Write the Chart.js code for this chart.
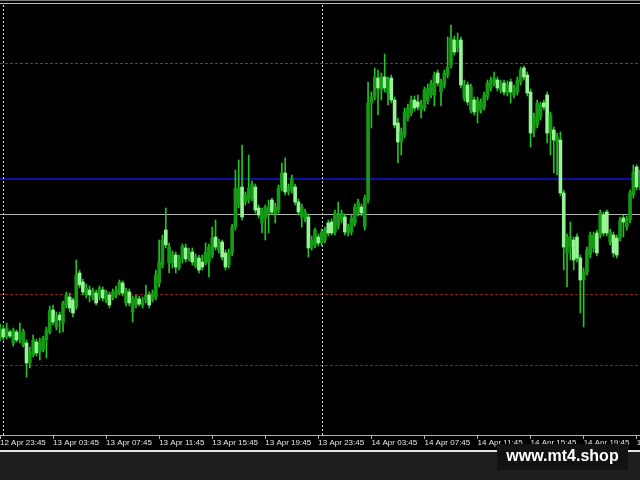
<!DOCTYPE html>
<html>
<head>
<meta charset="utf-8">
<script src="https://cdn.jsdelivr.net/npm/chart.js@4.4.1/dist/chart.umd.min.js"></script>
<style>
html,body{margin:0;padding:0;background:#000;width:640px;height:480px;overflow:hidden}
#wrap{position:relative;width:640px;height:447px}
#top1{position:absolute;left:0;top:0;width:640px;height:1px;background:#7a7a7a}
#top2{position:absolute;left:0;top:3px;width:640px;height:1px;background:#b8b8b8}
#base{position:absolute;left:0;top:450px;width:640px;height:2px;background:#e4e4e4}
#strip{position:absolute;left:0;top:452px;width:640px;height:28px;background:#1e1e1e}
#mark{position:absolute;left:497px;top:444px;width:131px;height:26px;background:#121212;color:#fff;
  font:bold 16px "Liberation Sans",Arial,sans-serif;line-height:24px;text-align:center}
</style>
</head>
<body>
<div id="wrap"><canvas id="c" width="640" height="447"></canvas></div>
<div id="top1"></div><div id="top2"></div>
<div id="base"></div><div id="strip"></div>
<div id="mark">www.mt4.shop</div>
<script>
// M15 bars, prices in points
const tickLabels = ['12 Apr 23:45','13 Apr 03:45','13 Apr 07:45','13 Apr 11:45','13 Apr 15:45','13 Apr 19:45',
  '13 Apr 23:45','14 Apr 03:45','14 Apr 07:45','14 Apr 11:45','14 Apr 15:45','14 Apr 19:45','14 Apr 23:45'];
const barsPerLabel = 16;

const open = [
662,671,663,668,657,668,660,655,657,637,
645,658,648,650,660,668,690,673,685,677,
695,703,700,693,727,718,705,710,703,707,
703,710,700,705,702,705,707,717,697,708,
688,695,701,695,700,705,700,703,717,735,
770,737,737,745,732,742,752,742,748,734,
742,738,737,738,745,763,750,758,747,735,
747,773,795,813,798,800,802,813,792,777,
782,787,800,786,790,812,827,808,810,813,
798,783,782,783,753,755,763,757,760,777,
778,768,774,780,783,767,768,777,787,793,
773,800,897,903,922,910,923,907,922,900,
877,858,865,882,887,900,898,890,892,899,
905,905,927,908,915,925,935,960,952,960,
902,915,890,900,888,890,893,903,912,917,
920,910,917,907,918,905,908,918,932,925,
908,870,875,883,897,905,867,870,858,860,
807,747,753,760,763,742,720,728,745,752,
767,765,785,788,758,765,762,762,782,773,
780,805,833,813];
const high = [
676,675,677,670,672,670,677,671,660,653,
665,661,662,664,673,694,695,688,688,699,
708,707,702,740,730,721,716,714,712,710,
714,713,710,708,711,714,720,719,712,711,
704,705,704,703,715,708,710,730,760,765,
792,757,749,748,745,756,756,752,752,746,
745,745,757,756,773,780,761,760,750,751,
776,830,840,855,808,845,819,816,795,792,
795,800,802,797,815,837,842,816,825,816,
801,796,791,786,764,772,766,771,773,780,
781,790,798,790,786,776,785,796,801,796,
805,918,908,932,930,927,946,923,925,903,
882,872,892,896,904,904,905,900,913,916,
920,928,930,921,930,963,975,964,967,963,
920,918,916,903,903,901,908,920,923,928,
923,920,920,919,921,915,923,933,934,928,
911,887,900,898,900,908,888,873,867,868,
810,766,778,763,766,745,732,753,768,768,
770,790,788,790,771,768,765,783,785,784,
810,835,835,830];
const low = [
659,660,661,662,654,658,657,653,623,632,
643,644,640,648,642,666,675,670,667,668,
692,688,683,691,712,705,702,698,700,695,
700,699,697,692,700,702,705,704,694,694,
678,692,694,692,697,692,698,700,713,732,
752,727,732,727,730,737,738,739,735,732,
727,730,735,723,742,750,747,740,730,732,
744,770,792,780,795,797,799,787,782,767,
760,767,785,777,787,809,805,805,807,795,
785,773,778,743,750,752,754,754,757,764,
765,765,771,777,765,764,765,774,784,784,
770,797,872,900,885,900,908,895,897,872,
837,845,862,879,884,889,890,882,889,896,
902,894,914,894,912,922,932,945,948,912,
899,895,887,885,877,887,890,900,909,914,
909,907,905,904,897,902,905,915,920,904,
853,863,872,880,890,857,845,827,825,804,
730,713,740,730,738,687,673,725,742,748,
744,762,764,764,755,743,742,759,763,770,
777,802,810,810];
const close = [
670,663,672,664,670,660,666,669,637,648,
660,647,658,662,670,690,678,683,680,697,
705,692,687,725,715,708,712,705,709,697,
712,702,707,695,708,710,718,707,710,697,
702,702,696,699,705,695,707,725,738,760,
755,753,747,733,742,754,741,747,738,743,
730,733,748,753,762,753,758,743,733,748,
773,812,812,783,805,812,816,790,785,790,
793,793,788,793,812,827,808,813,822,798,
788,793,788,752,760,770,757,768,770,767,
767,787,785,787,768,773,782,793,798,787,
802,897,903,923,912,923,912,920,900,875,
858,868,888,892,900,892,893,895,910,912,
917,925,917,918,927,933,962,948,960,915,
915,898,913,888,900,898,905,917,920,922,
912,916,908,915,908,912,920,930,923,907,
867,883,897,895,893,867,885,860,863,807,
753,763,763,740,742,720,728,750,765,765,
747,787,767,767,768,747,745,780,778,781,
807,828,813,823];

// horizontal levels and day separators (bar index)
const levelValues = [937, 821, 786, 706, 635];
const levelStyles = [
  {color:'#1f6a1f', width:1, dash:[3,2]},
  {color:'#10109e', width:2, dash:[]},
  {color:'#b4b4b4', width:1, dash:[]},
  {color:'#8a1c1c', width:1, dash:[3,2]},
  {color:'#8a1c1c', width:1, dash:[3,2]}
];
const daySeparators = [1, 97];

const bullBody = '#169a16', bearBody = '#96f496', wickColor = '#22c422';

const levelsPlugin = {
  id: 'levels',
  beforeDatasetsDraw(chart) {
    const {ctx, chartArea: a, scales: {x, y}} = chart;
    ctx.save();
    levelValues.forEach((v, i) => {
      const s = levelStyles[i];
      const py = Math.round(y.getPixelForValue(v)) + (s.width % 2 ? 0.5 : 0);
      ctx.strokeStyle = s.color; ctx.lineWidth = s.width; ctx.setLineDash(s.dash);
      ctx.beginPath(); ctx.moveTo(a.left, py); ctx.lineTo(a.right, py); ctx.stroke();
    });
    ctx.strokeStyle = '#d8d8d8'; ctx.lineWidth = 1; ctx.setLineDash([2,2]);
    daySeparators.forEach(idx => {
      const px = Math.round(x.getPixelForValue(idx)) + 0.5;
      ctx.beginPath(); ctx.moveTo(px, a.top + 5); ctx.lineTo(px, a.bottom); ctx.stroke();
    });
    ctx.restore();
  }
};

const bars = open.map((_, i) => i);

new Chart(document.getElementById('c'), {
  type: 'bar',
  data: {
    labels: bars,
    datasets: [
      {
        data: open.map((o, i) => [o, close[i]]),
        backgroundColor: open.map((o, i) => close[i] >= o ? bullBody : bearBody),
        barThickness: 3, minBarLength: 1, grouped: false, order: 0
      },
      {
        data: low.map((l, i) => [l, high[i]]),
        backgroundColor: wickColor,
        barThickness: 1, grouped: false, order: 1
      }
    ]
  },
  options: {
    responsive: false,
    animation: false,
    devicePixelRatio: 1,
    layout: {padding: 0},
    plugins: {legend: {display: false}, tooltip: {enabled: false}},
    scales: {
      x: {
        offset: false,
        grid: {
          offset: false, drawOnChartArea: false, drawTicks: true, tickLength: 4,
          color: c => c.index % barsPerLabel === 0 ? '#b0b0b0' : 'rgba(0,0,0,0)'
        },
        border: {display: true, color: '#b0b0b0', width: 1},
        ticks: {
          autoSkip: false, maxRotation: 0, minRotation: 0, align: 'start', padding: 0,
          color: '#e6e6e6', font: {family: 'Liberation Sans', size: 8, lineHeight: 1},
          callback: (v, i) => i % barsPerLabel === 0 ? tickLabels[i / barsPerLabel] : ''
        }
      },
      y: {display: false, min: 565, max: 1000}
    }
  },
  plugins: [levelsPlugin]
});
</script>
</body>
</html>
